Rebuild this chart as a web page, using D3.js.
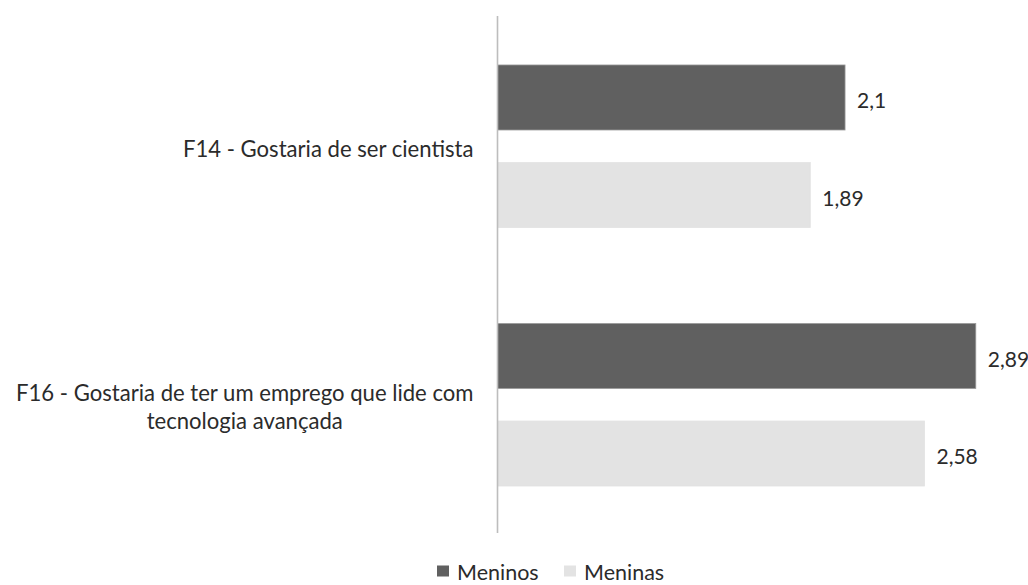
<!DOCTYPE html>
<html>
<head>
<meta charset="utf-8">
<script src="https://cdn.jsdelivr.net/npm/d3@7"></script>
<style>
  html, body { margin: 0; padding: 0; background: #fff; }
  svg { display: block; }
  text { font-family: Lato, "Open Sans", sans-serif; fill: #2b2b2b; }
</style>
</head>
<body>
<svg id="chart" width="1028" height="585"></svg>
<script>
// Item labels (each entry is a list of lines)
const categories = ["F14", "F16"];
const categoryLines = [
  ["F14 - Gostaria de ser cientista"],
  ["F16 - Gostaria de ter um emprego que lide com", "tecnologia avançada"]
];
const seriesNames = ["Meninos", "Meninas"];
const meninos = [2.1, 2.89];
const meninas = [1.89, 2.58];
const seriesColors = ["#606060", "#e3e3e3"];
const seriesStroke = ["#9a9a9a", "#e3e3e3"];

const svg = d3.select("#chart");
const axisX = 497.5;

const x = d3.scaleLinear().domain([0, 3]).range([axisX, axisX + 3 * 165.5]);
const y0 = d3.scaleBand().domain(categories).range([17, 534]).paddingInner(0).paddingOuter(0);
const y1 = d3.scaleBand().domain(seriesNames).range([0, y0.bandwidth()])
  .paddingInner(1 / 3).paddingOuter(0.492);

const values = [meninos, meninas];
const fmt = v => String(v).replace(".", ",");

// Bars with value labels
const groups = svg.selectAll("g.cat").data(categories).join("g")
  .attr("class", "cat")
  .attr("transform", d => `translate(0,${y0(d)})`);

seriesNames.forEach((s, si) => {
  groups.append("rect")
    .attr("x", x(0))
    .attr("y", y1(s))
    .attr("width", (d, ci) => x(values[si][ci]) - x(0))
    .attr("height", y1.bandwidth())
    .attr("fill", seriesColors[si])
    .attr("stroke", seriesStroke[si])
    .attr("stroke-width", 0.8);

  groups.append("text")
    .attr("x", (d, ci) => x(values[si][ci]) + 12)
    .attr("y", y1(s) + y1.bandwidth() / 2)
    .attr("dy", "0.52em")
    .attr("font-size", 21)
    .text((d, ci) => fmt(values[si][ci]));
});

// Vertical axis line
svg.append("line")
  .attr("x1", axisX).attr("x2", axisX)
  .attr("y1", 16).attr("y2", 533)
  .attr("stroke", "#bdbdbd").attr("stroke-width", 1.6);

// Category labels: centred lines, block right-aligned next to the axis
const lineH = 28;
categories.forEach((c, ci) => {
  const lines = categoryLines[ci];
  const g = svg.append("g");
  const cy = y0(c) + y0.bandwidth() / 2;
  const texts = lines.map((ln, li) => g.append("text")
    .attr("y", cy + (li - (lines.length - 1) / 2) * lineH)
    .attr("dy", "0.48em")
    .attr("font-size", 22.1)
    .attr("text-anchor", "middle")
    .text(ln));
  const w = d3.max(texts, t => t.node().getComputedTextLength());
  texts.forEach(t => t.attr("x", axisX - 24 - w / 2));
});

// Legend along the bottom edge
const legendItems = [{ x: 437, name: "Meninos", color: seriesColors[0] },
                     { x: 564, name: "Meninas", color: seriesColors[1] }];
legendItems.forEach(it => {
  svg.append("rect").attr("x", it.x).attr("y", 565.5).attr("width", 12).attr("height", 11)
    .attr("fill", it.color);
  svg.append("text").attr("x", it.x + 20).attr("y", 580)
    .attr("font-size", 21.5).text(it.name);
});
</script>
</body>
</html>
